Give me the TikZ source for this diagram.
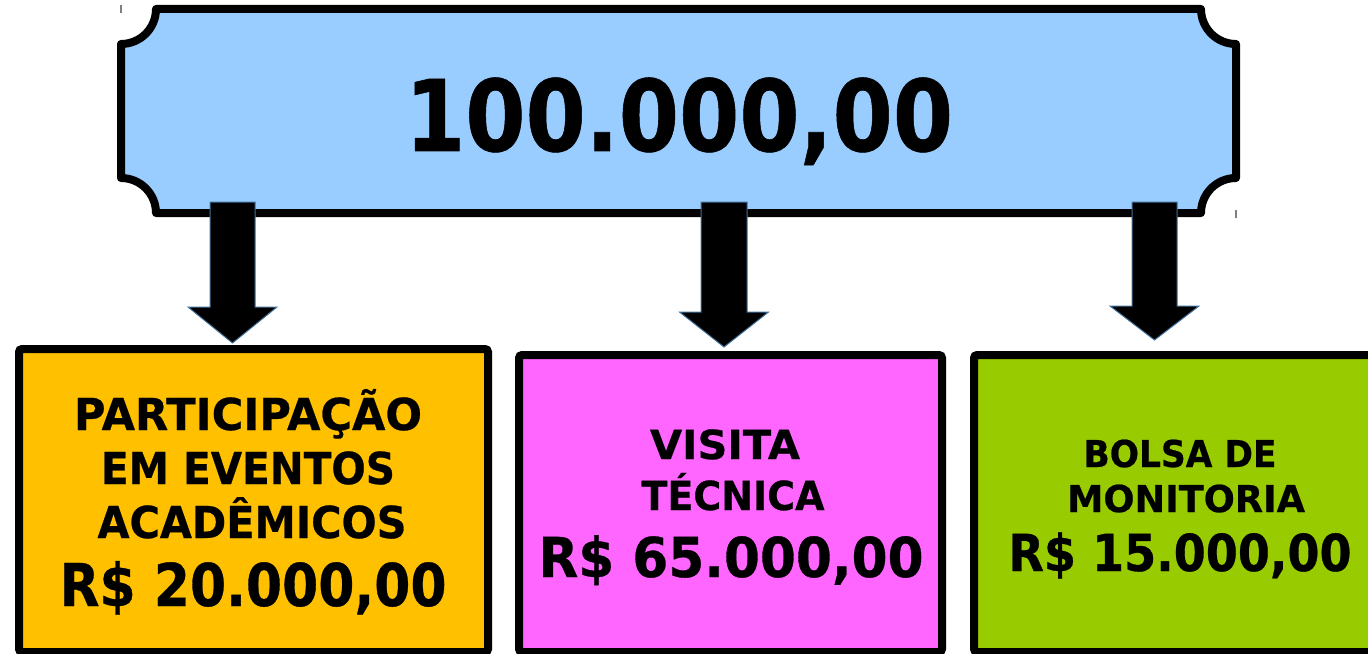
\documentclass[tikz,border=0pt]{standalone}
\usepackage{fontspec}
\setmainfont{DejaVu Sans}[BoldFeatures={FakeBold=0.6}]
\usepackage{graphicx}
\usetikzlibrary{calc}
\definecolor{bannerblue}{HTML}{99CCFF}
\definecolor{boxorange}{HTML}{FFC000}
\definecolor{boxpink}{HTML}{FF66FF}
\definecolor{boxgreen}{HTML}{99CC00}
\definecolor{arrowedge}{HTML}{41719C}
\newcommand{\fitl}[3]{\resizebox{#1bp}{\height}{\fontsize{#2bp}{#2bp}\selectfont\bfseries #3}}
\tikzset{
  banner/.style={draw=black, fill=bannerblue, line width=8bp, line join=round},
  valuebox/.style={draw=black, line width=8bp, rounded corners=3bp, outer sep=0pt, inner sep=0pt, anchor=north west},
  txt/.style={inner sep=0pt, anchor=base},
  blockarrow/.style={fill=black, draw=arrowedge, line width=1bp, line join=miter},
  guide/.style={draw=gray, line width=1.2bp}
}
% #1 start coordinate, #2 tip coordinate, #3 shaft half width, #4 head half width, #5 head length
\newcommand{\blockarrow}[5]{%
  \path[blockarrow] ($(#1)+(-#3,0)$) -- ($(#1)+(#3,0)$) -- ($(#2)+(#3,-#5)$) -- ($(#2)+(#4,-#5)$)
    -- (#2) -- ($(#2)+(-#4,-#5)$) -- ($(#2)+(-#3,-#5)$) -- cycle;}
\begin{document}
\begin{tikzpicture}[x=1bp,y=-1bp]
\useasboundingbox (0,0) rectangle (1368,654);
% banner
\path[banner] (156,9) -- (1201,9) arc[start angle=180,end angle=90,radius=35]
  -- (1236,178) arc[start angle=270,end angle=180,radius=35]
  -- (156,213) arc[start angle=0,end angle=-90,radius=35]
  -- (121,44) arc[start angle=90,end angle=0,radius=35] -- cycle;
\node[txt] (total) at (679,151) {\fitl{548}{99}{100.000,00}};
\draw[guide] (121,5) -- (121,13);
\draw[guide] (1236,210) -- (1236,218);
% boxes
\node[valuebox, fill=boxorange, minimum width=469bp, minimum height=303bp] (b1) at (19,349) {};
\node[valuebox, fill=boxpink, minimum width=423bp, minimum height=297bp] (b2) at (519,355) {};
\node[valuebox, fill=boxgreen, minimum width=401bp, minimum height=297bp] (b3) at (974,355) {};
% arrows
\coordinate (a1s) at (232.5,202); \coordinate (a1e) at (232.5,343);
\coordinate (a2s) at (724,202);   \coordinate (a2e) at (724,347);
\coordinate (a3s) at (1154.5,202);\coordinate (a3e) at (1154.5,340);
\blockarrow{a1s}{a1e}{22.5}{44.5}{36}
\blockarrow{a2s}{a2e}{23}{44.5}{35}
\blockarrow{a3s}{a3e}{22.5}{44.5}{34}
% texts box 1
\node[txt] (b1l1) at (248,430) {\fitl{348}{44}{PARTICIPAÇÃO}};
\node[txt] (b1l2) at (248,484) {\fitl{294}{44}{EM EVENTOS}};
\node[txt] (b1l3) at (252,538) {\fitl{309}{44}{ACADÊMICOS}};
\node[txt] (b1l4) at (253,606) {\fitl{387}{59}{R\$ 20.000,00}};
% texts box 2
\node[txt] (b2l1) at (725,459) {\fitl{150}{40}{VISITA}};
\node[txt] (b2l2) at (733,510) {\fitl{183}{40}{TÉCNICA}};
\node[txt] (b2l3) at (731,577) {\fitl{385}{55}{R\$ 65.000,00}};
% texts box 3
\node[txt] (b3l1) at (1180,467) {\fitl{193}{37}{BOLSA DE}};
\node[txt] (b3l2) at (1186,512) {\fitl{238}{37}{MONITORIA}};
\node[txt] (b3l3) at (1180,571) {\fitl{343}{51}{R\$ 15.000,00}};
\end{tikzpicture}
\end{document}
